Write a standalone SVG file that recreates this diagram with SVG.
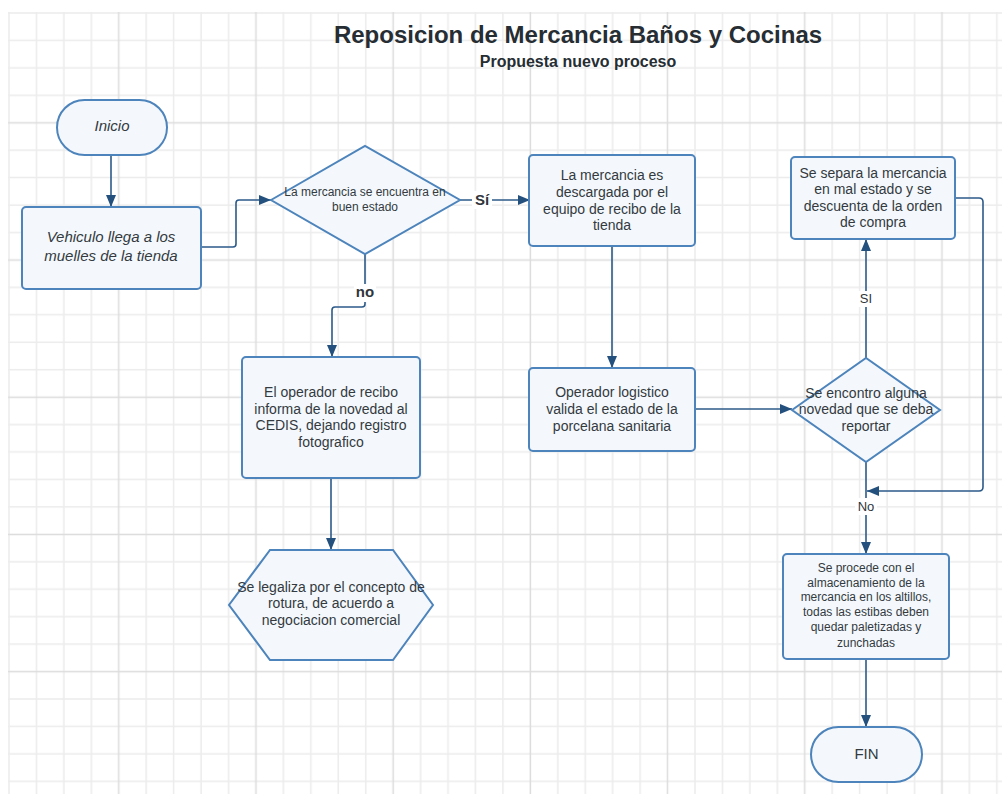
<svg xmlns="http://www.w3.org/2000/svg" width="1002" height="794" viewBox="0 0 1002 794">
  <defs>
    <pattern id="grid" patternUnits="userSpaceOnUse" x="8" y="12" width="137.2" height="137.2">
      <path d="M1 0V137.2M28.44 0V137.2M55.88 0V137.2M83.32 0V137.2M0 1H137.2M0 28.44H137.2M0 55.88H137.2M0 83.32H137.2" stroke="#ececec" stroke-width="1.5" fill="none"/>
      <path d="M110.76 0V137.2M0 110.76H137.2" stroke="#dcdcdc" stroke-width="1.5" fill="none"/>
    </pattern>
    <marker id="arrow" markerUnits="userSpaceOnUse" markerWidth="12" markerHeight="10" viewBox="0 0 12 10" refX="12" refY="5" orient="auto">
      <path d="M0,0 L12,5 L0,10 z" fill="#24507e"/>
    </marker>
    <style>
      .node { fill: #f4f8fd; stroke: #4d84bb; stroke-width: 2; }
      .link { fill: none; stroke: #2b5a89; stroke-width: 1.6; }
      .t { font-family: "Liberation Sans", Arial, sans-serif; fill: #333a40; text-anchor: middle; }
      .t14 { font-size: 14px; }
      .t12 { font-size: 12px; }
      .it { font-size: 15px; font-style: italic; }
      .lbl { font-family: "Liberation Sans", Arial, sans-serif; text-anchor: middle; fill: #2f353b; }
    </style>
  </defs>

  <!-- background and grid -->
  <rect x="0" y="0" width="1002" height="794" fill="#ffffff"/>
  <rect x="8" y="12" width="994" height="782" fill="url(#grid)"/>

  <!-- title -->
  <g id="title">
    <text x="578" y="43" class="t" style="font-size:24px;font-weight:bold;fill:#262d33">Reposicion de Mercancia Baños y Cocinas</text>
    <text x="578" y="67" class="t" style="font-size:16px;font-weight:bold;fill:#262d33">Propuesta nuevo proceso</text>
  </g>

  <!-- connectors -->
  <g id="connectors">
    <path class="link" d="M111 155V207" marker-end="url(#arrow)"/>
    <path class="link" d="M201 247H233Q236 247 236 244V203Q236 200 239 200H271" marker-end="url(#arrow)"/>
    <path class="link" d="M460 200H530" marker-end="url(#arrow)"/>
    <path class="link" d="M365 254V304Q365 307 362 307H335Q332 307 332 310V357" marker-end="url(#arrow)"/>
    <path class="link" d="M331 478V550" marker-end="url(#arrow)"/>
    <path class="link" d="M612 246V368" marker-end="url(#arrow)"/>
    <path class="link" d="M695 409H792" marker-end="url(#arrow)"/>
    <path class="link" d="M866 358V239" marker-end="url(#arrow)"/>
    <path class="link" d="M955 198H979Q983 198 983 202V487Q983 491 979 491H867" marker-end="url(#arrow)"/>
    <path class="link" d="M866 462V554" marker-end="url(#arrow)"/>
    <path class="link" d="M866 659V727" marker-end="url(#arrow)"/>

    <!-- connector labels -->
    <rect x="472" y="191" width="20" height="18" fill="#ffffff"/>
    <text x="482" y="205" class="lbl" style="font-size:15px;font-weight:bold">Sí</text>
    <rect x="354" y="284" width="22" height="18" fill="#ffffff"/>
    <text x="365" y="297" class="lbl" style="font-size:15px;font-weight:bold">no</text>
    <rect x="858" y="291" width="16" height="16" fill="#ffffff"/>
    <text x="866" y="303" class="lbl" style="font-size:13px">SI</text>
    <rect x="855" y="498" width="22" height="17" fill="#ffffff"/>
    <text x="866" y="511" class="lbl" style="font-size:13px">No</text>
  </g>

  <!-- nodes -->
  <g id="inicio">
    <rect class="node" x="57" y="100" width="110" height="55" rx="27.5"/>
    <text x="112" y="131" class="t it">Inicio</text>
  </g>

  <g id="vehiculo">
    <rect class="node" x="22" y="207" width="179" height="82" rx="4"/>
    <text class="t it" x="111" y="242">Vehiculo llega a los</text>
    <text class="t it" x="111" y="261">muelles de la tienda</text>
  </g>

  <g id="decision-estado">
    <polygon class="node" points="271,200 365,146 460,200 365,254"/>
    <text class="t t12" x="365" y="196">La mercancia se encuentra en</text>
    <text class="t t12" x="365" y="211">buen estado</text>
  </g>

  <g id="informe-cedis">
    <rect class="node" x="242" y="357" width="178" height="121" rx="4"/>
    <text class="t t14" x="331" y="397">El operador de recibo</text>
    <text class="t t14" x="331" y="414">informa de la novedad al</text>
    <text class="t t14" x="331" y="430">CEDIS, dejando registro</text>
    <text class="t t14" x="331" y="447">fotografico</text>
  </g>

  <g id="legalizacion">
    <polygon class="node" points="270,550 393,550 433,605 393,660 270,660 229,605"/>
    <text class="t t14" x="331" y="592">Se legaliza por el concepto de</text>
    <text class="t t14" x="331" y="608">rotura, de acuerdo a</text>
    <text class="t t14" x="331" y="625">negociacion comercial</text>
  </g>

  <g id="descarga">
    <rect class="node" x="529" y="155" width="166" height="91" rx="4"/>
    <text class="t t14" x="612" y="180">La mercancia es</text>
    <text class="t t14" x="612" y="197">descargada por el</text>
    <text class="t t14" x="612" y="214">equipo de recibo de la</text>
    <text class="t t14" x="612" y="230">tienda</text>
  </g>

  <g id="validacion">
    <rect class="node" x="529" y="368" width="166" height="83" rx="4"/>
    <text class="t t14" x="612" y="397">Operador logistico</text>
    <text class="t t14" x="612" y="414">valida el estado de la</text>
    <text class="t t14" x="612" y="431">porcelana sanitaria</text>
  </g>

  <g id="decision-novedad">
    <polygon class="node" points="792,410 866,358 940,410 866,462"/>
    <text class="t t14" x="866" y="398">Se encontro alguna</text>
    <text class="t t14" x="866" y="414">novedad que se deba</text>
    <text class="t t14" x="866" y="431">reportar</text>
  </g>

  <g id="separacion">
    <rect class="node" x="791" y="157" width="164" height="82" rx="4"/>
    <text class="t t14" x="873" y="178">Se separa la mercancia</text>
    <text class="t t14" x="873" y="194">en mal estado y se</text>
    <text class="t t14" x="873" y="211">descuenta de la orden</text>
    <text class="t t14" x="873" y="227">de compra</text>
  </g>

  <g id="almacenamiento">
    <rect class="node" x="783" y="554" width="166" height="105" rx="4"/>
    <text class="t t12" x="866" y="572">Se procede con el</text>
    <text class="t t12" x="866" y="587">almacenamiento de la</text>
    <text class="t t12" x="866" y="601">mercancia en los altillos,</text>
    <text class="t t12" x="866" y="616">todas las estibas deben</text>
    <text class="t t12" x="866" y="631">quedar paletizadas y</text>
    <text class="t t12" x="866" y="647">zunchadas</text>
  </g>

  <g id="fin">
    <rect class="node" x="811" y="727" width="111" height="55" rx="27.5"/>
    <text class="t" x="866.5" y="759" style="font-size:15px">FIN</text>
  </g>
</svg>
